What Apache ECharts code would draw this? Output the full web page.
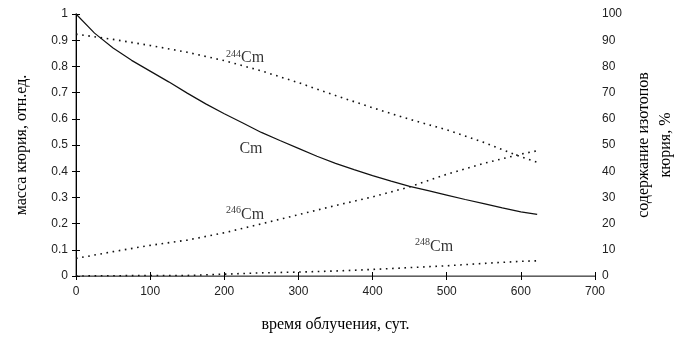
<!DOCTYPE html>
<html>
<head>
<meta charset="utf-8">
<script src="https://cdn.jsdelivr.net/npm/echarts@6/dist/echarts.min.js"></script>
<style>
  html, body { margin: 0; padding: 0; background: #fff; }
  #chart { width: 700px; height: 348px; }
</style>
</head>
<body>
<div id="chart"></div>
<script>
// время облучения, сут.
const days = [0, 25, 50, 75, 100, 125, 150, 175, 200, 225, 250, 275, 300, 325, 350, 375, 400, 425, 450, 475, 500, 525, 550, 575, 600, 622]
// масса кюрия, отн.ед. (left axis)
const cmMass = [1.0, 0.927, 0.87, 0.823, 0.782, 0.741, 0.698, 0.657, 0.619, 0.584, 0.548, 0.517, 0.487, 0.457, 0.43, 0.406, 0.383, 0.362, 0.342, 0.326, 0.309, 0.292, 0.276, 0.26, 0.245, 0.235]

// isotope content, % (right axis)
const isoDays = [0, 50, 100, 150, 200, 250, 300, 350, 400, 450, 500, 550, 600, 622]
const cm244 = [92.3, 90.3, 88.0, 85.4, 82.2, 78.3, 73.8, 68.9, 64.2, 59.8, 55.8, 51.0, 45.5, 43.4]
const cm246 = [6.7, 9.3, 11.7, 13.7, 16.5, 19.9, 23.4, 26.9, 30.2, 34.0, 38.8, 43.0, 46.5, 47.8]
const cm248 = [0, 0.1, 0.2, 0.2, 0.7, 1.2, 1.5, 1.9, 2.5, 3.2, 3.9, 4.8, 5.6, 5.8]

// curve labels (x in days, y in % of right axis)
const labelSup = ['244', '', '246', '248']
const labelText = ['Cm', 'Cm', 'Cm', 'Cm']
const labelX = [228, 236, 228, 483]
const labelY = [83.2, 48.5, 23.5, 11.3]

const pairs = (xs, ys) => xs.map((x, i) => [x, ys[i]])

const tickFont = { fontFamily: 'Liberation Sans', fontSize: 12, color: '#222' }
const nameFont = { fontFamily: 'Liberation Serif', fontSize: 16, color: '#000' }
const dotted = { color: '#111', width: 1.6, type: [1.6, 4.6] }

const chart = echarts.init(document.getElementById('chart'))
const option = {
  animation: false,
  grid: { left: 76, right: 105, top: 14, bottom: 72 },
  xAxis: [{
    type: 'value',
    min: 0, max: 700, interval: 100,
    name: 'время облучения, сут.',
    nameLocation: 'middle',
    nameGap: 41,
    nameTextStyle: nameFont,
    axisLine: { lineStyle: { color: '#000', width: 1 } },
    axisTick: { length: 4, lineStyle: { color: '#000' } },
    axisLabel: Object.assign({ margin: 10 }, tickFont),
    splitLine: { show: false }
  }, {
    // inner half of the crossing ticks
    type: 'value', position: 'bottom',
    min: 0, max: 700, interval: 100,
    axisLine: { show: false },
    axisTick: { inside: true, length: 4, lineStyle: { color: '#000' } },
    axisLabel: { show: false },
    splitLine: { show: false }
  }, {
    // top border
    type: 'value', position: 'top',
    min: 0, max: 700,
    axisLine: { lineStyle: { color: '#808080', width: 1.5 } },
    axisTick: { show: false },
    axisLabel: { show: false },
    splitLine: { show: false }
  }],
  yAxis: [{
    type: 'value',
    min: 0, max: 1, interval: 0.1,
    position: 'left',
    name: 'масса кюрия, отн.ед.',
    nameLocation: 'middle',
    nameRotate: 90,
    nameGap: 46,
    nameTextStyle: nameFont,
    axisLine: { show: true, lineStyle: { color: '#808080', width: 1.5 } },
    axisTick: { show: true, length: 4, lineStyle: { color: '#808080' } },
    axisLabel: Object.assign({ margin: 8 }, tickFont),
    splitLine: { show: false }
  }, {
    type: 'value',
    min: 0, max: 100, interval: 10,
    position: 'right',
    name: 'содержание изотопов\nкюрия, %',
    nameLocation: 'middle',
    nameRotate: 90,
    nameGap: 38,
    nameTextStyle: Object.assign({ lineHeight: 22, align: 'center' }, nameFont),
    axisLine: { show: true, lineStyle: { color: '#000', width: 1 } },
    axisTick: { show: true, length: 4, lineStyle: { color: '#000' } },
    axisLabel: Object.assign({ margin: 7 }, tickFont),
    splitLine: { show: false }
  }, {
    type: 'value',
    min: 0, max: 100, interval: 10,
    position: 'right',
    axisLine: { show: false },
    axisTick: { show: true, inside: true, length: 4, lineStyle: { color: '#000' } },
    axisLabel: { show: false },
    splitLine: { show: false }
  }],
  series: [{
    name: 'Cm',
    type: 'line',
    yAxisIndex: 0,
    data: pairs(days, cmMass),
    showSymbol: false,
    lineStyle: { color: '#111', width: 1.2 }
  }, {
    name: '244Cm',
    type: 'line',
    yAxisIndex: 1,
    data: pairs(isoDays, cm244),
    showSymbol: false,
    lineStyle: dotted
  }, {
    name: '246Cm',
    type: 'line',
    yAxisIndex: 1,
    data: pairs(isoDays, cm246),
    showSymbol: false,
    lineStyle: dotted
  }, {
    name: '248Cm',
    type: 'line',
    yAxisIndex: 1,
    data: pairs(isoDays, cm248),
    showSymbol: false,
    lineStyle: dotted
  }, {
    name: 'labels',
    type: 'scatter',
    yAxisIndex: 1,
    symbolSize: 0,
    silent: true,
    data: labelX.map((x, i) => ({ value: [x, labelY[i]], sup: labelSup[i], txt: labelText[i] })),
    label: {
      show: true,
      position: 'inside',
      formatter: p => (p.data.sup ? '{sup|' + p.data.sup + '}' : '') + '{cm|' + p.data.txt + '}',
      rich: {
        sup: { fontFamily: 'Liberation Serif', fontSize: 10, color: '#000', verticalAlign: 'top', lineHeight: 10 },
        cm: { fontFamily: 'Liberation Serif', fontSize: 16, color: '#000', lineHeight: 18 }
      }
    }
  }]
}
chart.setOption(option)
</script>
</body>
</html>
